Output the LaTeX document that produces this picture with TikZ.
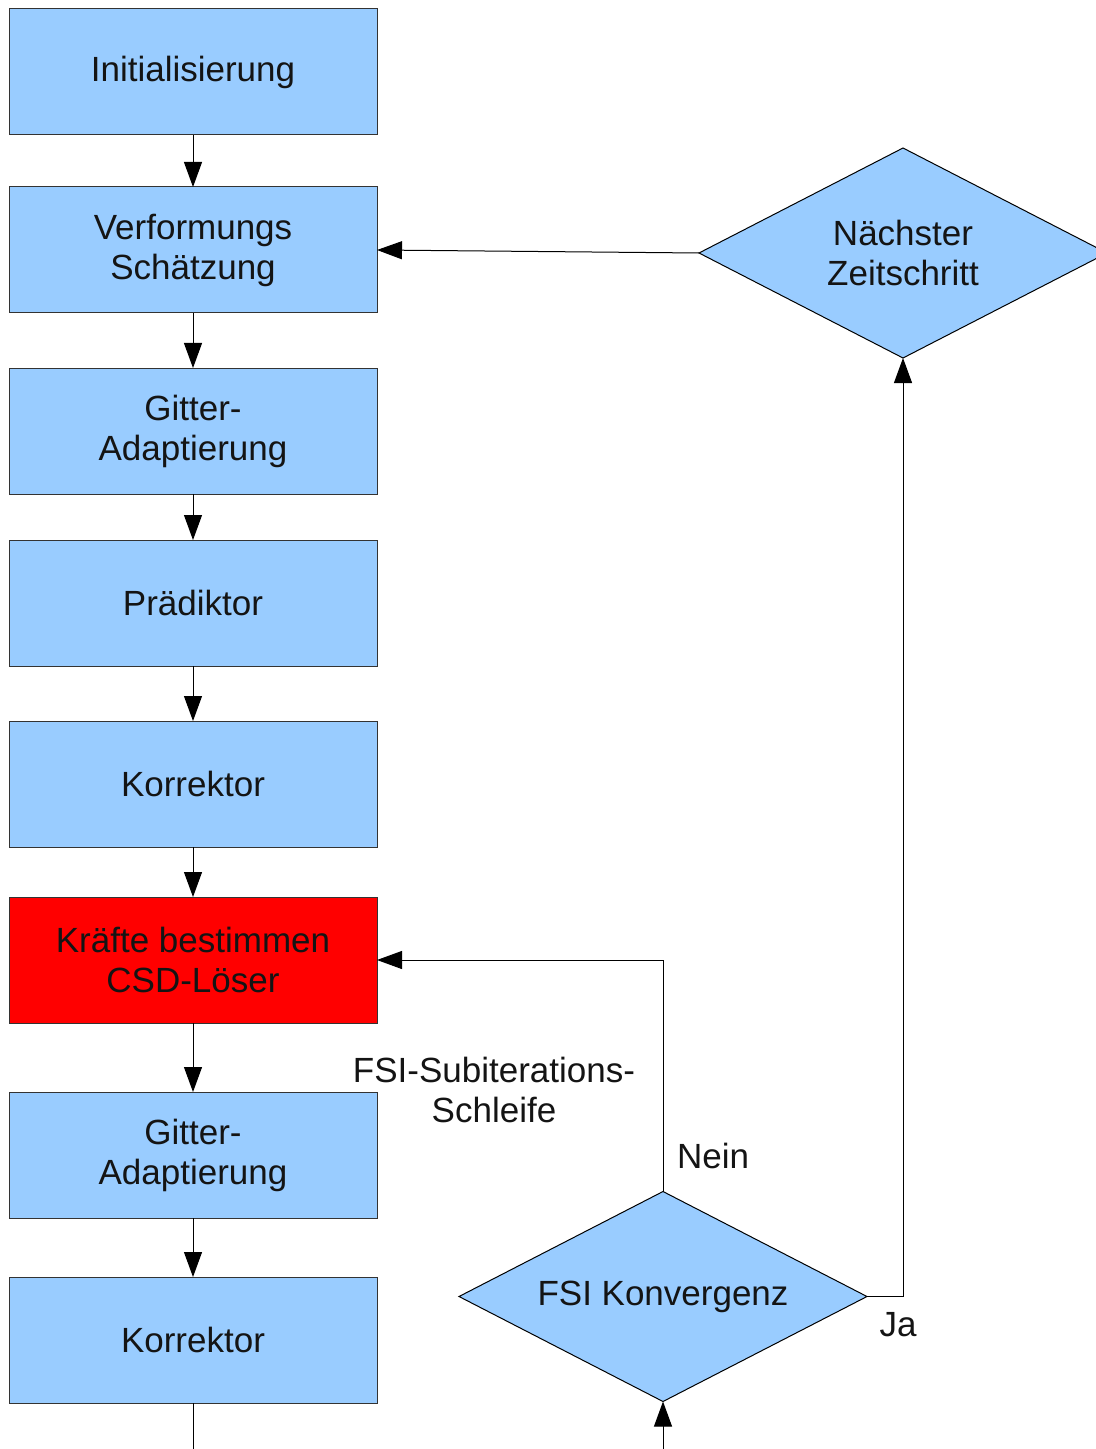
\documentclass[tikz,border=0pt]{standalone}
\usepackage{fontspec}
\setmainfont{Liberation Sans}
\usetikzlibrary{shapes.geometric,arrows.meta}
\definecolor{boxblue}{HTML}{99CCFF}
\definecolor{boxred}{HTML}{FF0000}
\definecolor{boxline}{HTML}{333333}
\tikzset{
  txt/.style={font=\fontsize{17.5}{20}\selectfont, text=black!92, align=center},
  stepbox/.style={txt, draw=boxline, fill=boxblue, line width=0.5pt,
    minimum width=184pt, minimum height=63pt, inner sep=0pt, outer sep=0pt},
  redbox/.style={stepbox, fill=boxred},
  decision/.style={txt, diamond, shape aspect=1.94, draw=black, fill=boxblue, line width=0.5pt,
    minimum width=204pt, minimum height=105pt, inner sep=0pt, outer sep=0pt},
  arr/.style={-{Triangle[length=12.5pt,width=9pt]}, line width=0.5pt, draw=black},
  plain/.style={line width=0.5pt, draw=black},
  lbl/.style={txt}
}
\begin{document}
\begin{tikzpicture}[x=0.5pt,y=-0.5pt]
\useasboundingbox (0,0) rectangle (1096,1449);
\clip (0,0) rectangle (1096,1449);
\node[stepbox] (init) at (193,72) {Initialisierung};
\node[stepbox] (verf) at (193,250) {Verformungs\\Schätzung};
\node[stepbox] (git1) at (193,431) {Gitter-\\Adaptierung};
\node[stepbox] (pred) at (193,603) {Prädiktor};
\node[stepbox] (kor1) at (193,784) {Korrektor};
\node[redbox] (kraft) at (193,960) {Kräfte bestimmen\\CSD-Löser};
\node[stepbox] (git2) at (193,1155) {Gitter-\\Adaptierung};
\node[stepbox] (kor2) at (193,1340) {Korrektor};
\node[decision] (zeit) at (903,253) {Nächster\\Zeitschritt};
\node[decision] (konv) at (663,1296.5) {FSI Konvergenz};
\node[lbl] (schleife) at (494,1090) {FSI-Subiterations-\\Schleife};
\node[lbl] (nein) at (713,1156) {Nein};
\node[lbl] (ja) at (898,1325) {Ja};
\coordinate (bot1) at (193,1449);
\coordinate (bot2) at (663,1449);
\draw[arr] (init) -- (verf);
\draw[arr] (verf) -- (git1);
\draw[arr] (git1) -- (pred);
\draw[arr] (pred) -- (kor1);
\draw[arr] (kor1) -- (kraft);
\draw[arr] (kraft) -- (git2);
\draw[arr] (git2) -- (kor2);
\draw[plain] (kor2) -- (bot1);
\draw[arr] (bot2) -- (konv.south);
\draw[arr] (konv.north) |- (kraft.east);
\draw[arr] (konv.east) -| (zeit.south);
\draw[arr] (zeit.west) -- (verf.east);
\end{tikzpicture}
\end{document}
